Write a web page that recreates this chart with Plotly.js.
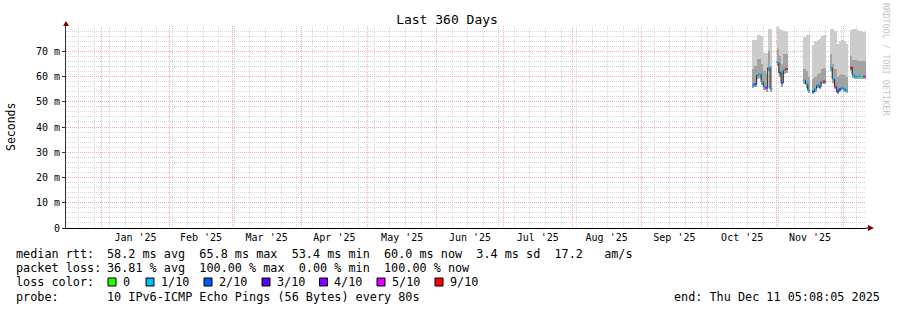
<!DOCTYPE html>
<html>
<head>
<meta charset="utf-8">
<script src="https://cdn.plot.ly/plotly-3.0.1.min.js"></script>
<style>html,body{margin:0;padding:0;background:#fff;}#chart{width:897px;height:310px;}</style>
</head>
<body>
<div id="chart"></div>
<script>
// ---- data ----
const rangeStart = '2024-12-16 05:08:05';
const rangeEnd   = '2025-12-11 05:08:05';

const days = [
 '2025-10-21','2025-10-22','2025-10-23','2025-10-24','2025-10-25','2025-10-26','2025-10-27','2025-10-28','2025-10-29','2025-10-30','2025-10-31',
 '2025-11-01','2025-11-02','2025-11-03','2025-11-04','2025-11-05','2025-11-06','2025-11-07','2025-11-08','2025-11-09','2025-11-10',
 '2025-11-11','2025-11-12','2025-11-13','2025-11-14','2025-11-15','2025-11-16','2025-11-17','2025-11-18','2025-11-19','2025-11-20',
 '2025-11-21','2025-11-22','2025-11-23','2025-11-24','2025-11-25','2025-11-26','2025-11-27','2025-11-28','2025-11-29','2025-11-30',
 '2025-12-01','2025-12-02','2025-12-03','2025-12-04','2025-12-05','2025-12-06','2025-12-07','2025-12-08','2025-12-09','2025-12-10'
];
const medianMs = [
 56.5,57,60.5,61,58,56,55.5,63.5,55,null,null,
 65.5,61.5,57.5,62.5,63,null,null,null,null,null,
 null,null,58.5,57,54.5,null,54,55,56.5,56,
 58,58,null,null,63.5,59,56,54,55,55.5,
 55,54.5,null,63.5,60.5,60,60,60.2,60,60
];
const lossCount = [
 1,2,1,1,1,1,5,1,1,null,null,
 1,2,2,1,9,null,null,null,null,null,
 null,null,1,1,1,null,2,1,1,2,
 1,9,null,null,1,1,5,2,2,1,
 1,1,null,9,1,1,1,1,0,5
];
const smokeMin = [
 55.5,56,59,59.5,56.5,54.5,54,62,54,null,null,
 64,60,56,61,61.5,null,null,null,null,null,
 null,null,57,55.5,53.5,null,53,54,55.5,55,
 57,57,null,null,62,57.5,55,53,54,54.5,
 54,53.5,null,62,59.5,59,59,59,59,59
];
const smokeMid = [
 63,64,67,67,65,62,61,70,64,null,null,
 71,68,65,69,69,null,null,null,null,null,
 null,null,63,62,60,null,59,60,61,61.5,
 63,63.5,null,null,69,65,63,60,60.5,61,
 60.5,60,null,68,66.5,66.5,66,66,66,66
];
const smokeMax = [
 74.5,74.5,76.5,76.5,76,69.5,69.5,79,79,null,null,
 79.5,79,78.5,78,77.5,null,null,null,null,null,
 null,null,75.5,76.5,76.5,null,72.5,74,74.5,75,
 76,76.5,null,null,79,79,78,73,74,74.5,
 74,73,null,78.5,79,79,78.5,78,78,77.5
];
const lossLevels = [0,1,2,3,4,5,9];
const lossLabels = ['0','1/10','2/10','3/10','4/10','5/10','9/10'];
const lossColors = ['#26ff00','#00b8ff','#0059ff','#5e00ff','#7e00ff','#dd00ff','#ff0000'];

const yTickVals = [0,10,20,30,40,50,60,70];
const yTickText = ['0','10 m','20 m','30 m','40 m','50 m','60 m','70 m'];
const monthStarts = ['2025-01-01','2025-02-01','2025-03-01','2025-04-01','2025-05-01','2025-06-01','2025-07-01','2025-08-01','2025-09-01','2025-10-01','2025-11-01','2025-12-01'];
const monthLabels = ["Jan '25","Feb '25","Mar '25","Apr '25","May '25","Jun '25","Jul '25","Aug '25","Sep '25","Oct '25","Nov '25"];

const statsRows = [
 ['median rtt:', '58.2 ms avg  65.8 ms max  53.4 ms min  60.0 ms now  3.4 ms sd  17.2   am/s'],
 ['packet loss:', '36.81 % avg  100.00 % max  0.00 % min  100.00 % now'],
 ['loss color:', ''],
 ['probe:', '10 IPv6-ICMP Echo Pings (56 Bytes) every 80s']
];
const endText = 'end: Thu Dec 11 05:08:05 2025';

// ---- helpers ----
const DAY = 86400000;
const dms = s => Date.parse(s + 'T00:00:00Z');
const ds = ms => new Date(ms).toISOString().slice(0,19).replace('T',' ');
const L = 66, T = 26, PW = 800, PH = 202;
const px = x => (x - L) / PW;
const py = y => (T + PH - y) / PH;
const FONT = 'DejaVu Sans Mono, monospace';

const monthMids = monthLabels.map((_, i) => {
  const a = dms(monthStarts[i]);
  const b = i + 1 < monthStarts.length ? dms(monthStarts[i+1]) : a + 31*DAY;
  return ds((a + b) / 2);
});

// ---- traces ----
const traces = [];
traces.push({
  type:'bar', x: days, base: smokeMin,
  y: smokeMax.map((v,i) => v == null ? null : v - smokeMin[i]),
  width: DAY, offset: 0, marker:{color:'#cccccc', line:{width:0}}, hoverinfo:'skip'
});
traces.push({
  type:'bar', x: days, base: smokeMin,
  y: smokeMid.map((v,i) => v == null ? null : v - smokeMin[i]),
  width: DAY, offset: 0, marker:{color:'#a3a3a3', line:{width:0}}, hoverinfo:'skip'
});

const mx = [], my = [];
medianMs.forEach((m, i) => {
  if (m == null) { mx.push(null); my.push(null); return; }
  const t = dms(days[i]);
  mx.push(ds(t), ds(t + DAY)); my.push(m, m);
});
traces.push({type:'scatter', mode:'lines', x: mx, y: my, xaxis:'x2',
  line:{color:'#202020', width:1}, connectgaps:false, hoverinfo:'skip'});

lossLevels.forEach((lv, k) => {
  const sx = [], sy = [];
  medianMs.forEach((m, i) => {
    if (m == null || lossCount[i] !== lv) return;
    const t = dms(days[i]);
    sx.push(ds(t), ds(t + DAY), null); sy.push(m, m, null);
  });
  if (sx.length) traces.push({type:'scatter', mode:'lines', x: sx, y: sy, xaxis:'x2',
    line:{color: lossColors[k], width:2}, connectgaps:false, hoverinfo:'skip'});
});

// ---- annotations & shapes ----
const ann = [];
const shapes = [];
const rowY = [254, 268, 282, 296.5];
const FS = 11.8;
const TX = 2.5; // annotation inner padding compensation
statsRows.forEach((r, i) => {
  ann.push({xref:'paper', yref:'paper', x:px(16.5 - TX), y:py(rowY[i]), xanchor:'left', yanchor:'middle',
    text:r[0], showarrow:false, font:{family:FONT, size:FS, color:'#000'}});
  if (r[1]) ann.push({xref:'paper', yref:'paper', x:px(107 - TX), y:py(rowY[i]), xanchor:'left', yanchor:'middle',
    text:r[1].replace(/ /g,'&nbsp;'), showarrow:false, font:{family:FONT, size:FS, color:'#000'}});
});
ann.push({xref:'paper', yref:'paper', x:px(882), y:py(rowY[3]), xanchor:'right', yanchor:'middle',
  text:endText.replace(/ /g,'&nbsp;'), showarrow:false, font:{family:FONT, size:FS, color:'#000'}});

const sqX = [108, 146, 204, 262, 319.5, 377, 435];
lossLabels.forEach((lab, k) => {
  shapes.push({type:'rect', xref:'paper', yref:'paper', xsizemode:'pixel', ysizemode:'pixel',
    xanchor:px(sqX[k]), yanchor:py(rowY[2]), x0:0, x1:8, y0:-4, y1:4,
    fillcolor:lossColors[k], line:{color:'#000', width:1}});
  ann.push({xref:'paper', yref:'paper', x:px(sqX[k] + 15 - TX), y:py(rowY[2]), xanchor:'left', yanchor:'middle',
    text:lab, showarrow:false, font:{family:FONT, size:FS, color:'#000'}});
});

ann.push({xref:'paper', yref:'paper', x:px(886), y:py(60), xanchor:'center', yanchor:'middle',
  text:'RRDTOOL / TOBI OETIKER', textangle:90, showarrow:false, font:{family:FONT, size:8.5, color:'#c4c4c4'}});
ann.push({xref:'paper', yref:'paper', x:px(11), y:py(127), xanchor:'center', yanchor:'middle',
  text:'Seconds', textangle:-90, showarrow:false, font:{family:FONT, size:11.5, color:'#000'}});

shapes.push({type:'path', xref:'paper', yref:'paper', xsizemode:'pixel', ysizemode:'pixel', xanchor:0, yanchor:1,
  path:'M-3,0 L3,0 L0,5 Z', fillcolor:'#800000', line:{width:0}});
shapes.push({type:'line', xref:'paper', yref:'paper', xsizemode:'pixel', xanchor:1, x0:0, x1:2, y0:0, y1:0,
  line:{color:'#000', width:1}});
shapes.push({type:'path', xref:'paper', yref:'paper', xsizemode:'pixel', ysizemode:'pixel', xanchor:1, yanchor:0,
  path:'M2,-3 L2,3 L8,0 Z', fillcolor:'#800000', line:{width:0}});

const RED = '#f4adad', GRAY = '#d6d6d6', DASH = '1px,1px';
const yMinor = []; for (let v = 2; v < 80; v += 2) if (v % 10) yMinor.push(v);

const layout = {
  width:897, height:310, margin:{l:L, r:897-L-PW, t:T, b:310-T-PH, pad:0},
  paper_bgcolor:'#fff', plot_bgcolor:'#fff', showlegend:false, barmode:'overlay', bargap:0,
  font:{family:FONT, color:'#000'},
  title:{text:'Last 360 Days', font:{family:FONT, size:13, color:'#000'},
    xref:'container', yref:'container', x:447/897, y:1-19.5/310, xanchor:'center', yanchor:'middle'},
  xaxis:{type:'date', range:[rangeStart, rangeEnd], tickmode:'array', tickvals:monthStarts,
    showticklabels:false, ticks:'', showgrid:true, gridcolor:RED, griddash:DASH, gridwidth:1,
    showline:true, linecolor:'#000', linewidth:1, zeroline:false, fixedrange:true,
    minor:{tickmode:'linear', tick0:'2024-12-22', dtick:7*DAY, showgrid:true, gridcolor:GRAY, griddash:DASH, gridwidth:1, ticks:''}},
  xaxis2:{type:'date', overlaying:'x', anchor:'y', side:'bottom', range:[rangeStart, rangeEnd],
    tickmode:'array', tickvals:monthMids, ticktext:monthLabels, showgrid:false, ticks:'',
    showline:false, zeroline:false, tickfont:{family:FONT, size:10, color:'#000'}, ticklabelstandoff:2},
  yaxis:{range:[0,80], tickmode:'array', tickvals:yTickVals, ticktext:yTickText,
    showgrid:true, gridcolor:RED, griddash:DASH, gridwidth:1, zeroline:false,
    showline:true, linecolor:'#333', linewidth:1, ticks:'outside', ticklen:3, tickcolor:'#333',
    tickfont:{family:FONT, size:10, color:'#000'}, fixedrange:true,
    minor:{tickmode:'array', tickvals:yMinor, showgrid:true, gridcolor:GRAY, griddash:DASH, gridwidth:1, ticks:''}},
  annotations:ann, shapes:shapes
};

Plotly.newPlot('chart', traces, layout, {staticPlot:true, displayModeBar:false});
</script>
</body>
</html>
